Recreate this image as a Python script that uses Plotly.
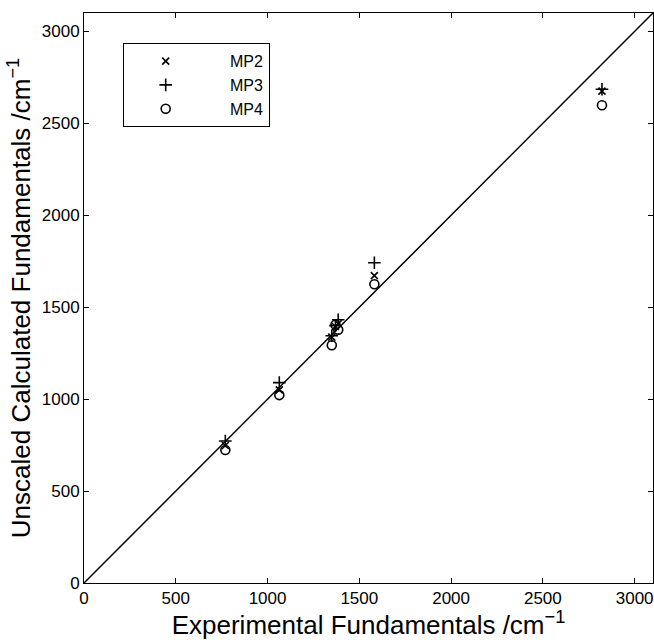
import plotly.graph_objects as go

# Experimental vs unscaled calculated fundamentals (cm^-1)
experimental = [770, 1064, 1350, 1370, 1385, 1582, 2822]
mp2 = [748, 1050, 1337, 1395, 1410, 1672, 2675]
mp3 = [772, 1090, 1345, 1400, 1432, 1742, 2685]
mp4 = [723, 1022, 1293, 1405, 1378, 1625, 2598]

axis_max = 3100
tick_vals = [0, 500, 1000, 1500, 2000, 2500, 3000]

fig = go.Figure()

# y = x reference line
fig.add_trace(go.Scatter(x=[0, axis_max], y=[0, axis_max], mode="lines",
                         line=dict(color="black", width=1.5), showlegend=False,
                         hoverinfo="skip"))

series = [
    ("MP2", mp2, "x-thin-open", 7),
    ("MP3", mp3, "cross-thin-open", 9),
    ("MP4", mp4, "circle-open", 9),
]
pad = "&nbsp;" * 5
for name, vals, sym, size in series:
    fig.add_trace(go.Scatter(
        x=experimental, y=vals, mode="markers", name=pad + name,
        marker=dict(symbol=sym, size=size, color="black",
                    line=dict(color="black", width=1.6)),
    ))

axis_common = dict(
    range=[0, axis_max], tickvals=tick_vals, ticks="inside", ticklen=5,
    tickwidth=1, tickcolor="black", showline=True, linecolor="black",
    linewidth=1, mirror="ticks", showgrid=False, zeroline=False,
    tickfont=dict(family="Liberation Sans, Arial", size=17, color="black"),
)

fig.update_layout(
    width=654, height=640,
    margin=dict(l=84, r=1, t=13, b=57),
    plot_bgcolor="white", paper_bgcolor="white",
    font=dict(family="Liberation Sans, Arial", color="black"),
    xaxis=dict(**axis_common,
               title=dict(text="Experimental Fundamentals /cm<sup>\u22121</sup>",
                          font=dict(size=26), standoff=3)),
    yaxis=dict(**axis_common,
               title=dict(text="Unscaled Calculated Fundamentals /cm<sup>\u22121</sup>",
                          font=dict(size=26), standoff=3)),
    legend=dict(x=0.068, y=0.947, xanchor="left", yanchor="top",
                bgcolor="white", bordercolor="black", borderwidth=1,
                font=dict(size=16, family="Liberation Sans, Arial"),
                itemwidth=74, tracegroupgap=0),
    showlegend=True,
)

fig.write_html("out.html")
